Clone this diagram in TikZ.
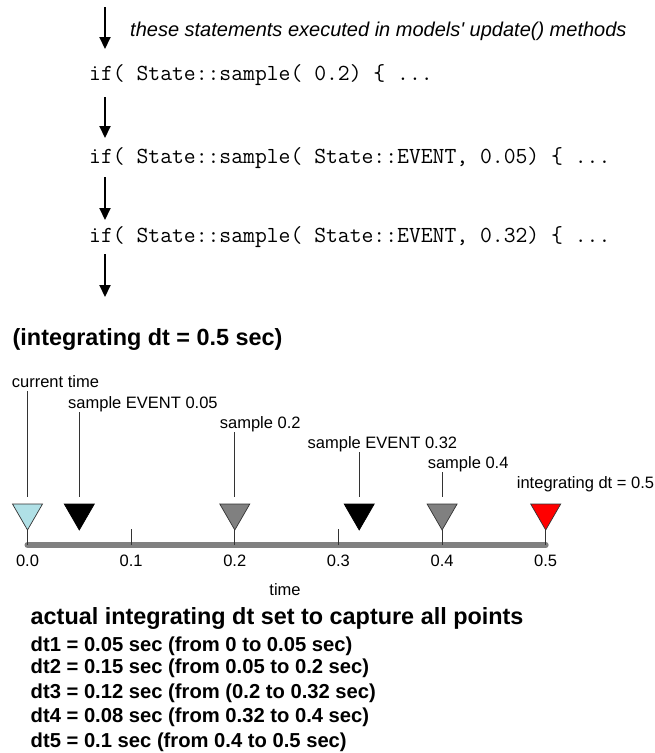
\documentclass[tikz,border=0pt]{standalone}
\usepackage{fontspec}
\setmainfont{Liberation Sans}
\usetikzlibrary{arrows.meta,shapes.geometric}

\definecolor{markcyan}{RGB}{176,224,230}
\definecolor{markgray}{RGB}{128,128,128}
\definecolor{markred}{RGB}{255,0,0}

\tikzset{
  flow/.style={line width=2pt,-{Triangle[width=11pt,length=12pt]}},
  code/.style={anchor=west,inner sep=0pt,font=\fontsize{23}{23}\ttfamily},
  lbl/.style={anchor=base west,inner sep=1.5pt,text height=0.72em,text depth=0.25em,font=\fontsize{16.5}{16.5}\selectfont},
  marker/.style={regular polygon,regular polygon sides=3,shape border rotate=180,minimum size=34.6pt,inner sep=0pt,outer sep=0pt,draw=black!80,line width=0.7pt},
  leader/.style={draw=black!80,line width=0.8pt},
  heading/.style={anchor=west,inner sep=0pt,font=\fontsize{23.4}{23.4}\bfseries},
  steps/.style={anchor=west,inner sep=0pt,font=\fontsize{20.2}{20.2}\bfseries},
}

\begin{document}
\begin{tikzpicture}[x=1pt,y=-1pt]
    \useasboundingbox (0,0) rectangle (655,753);
    % statements run in update()
    \foreach \ya/\yb [count=\i] in {7/49,97/138,177/220,254/297} {
        \coordinate (top\i) at (105,\ya);
        \coordinate (tip\i) at (105,\yb);
        \draw[flow] (top\i) -- (tip\i);
    }
    \node[anchor=west,inner sep=0pt,font=\fontsize{20}{20}\itshape] (note) at (130,31)
        {these statements executed in models\textquotesingle{} update() methods};
    \node[code] (s1) at (89,75) {if( State::sample( 0.2) \{ ...};
    \node[code] (s2) at (89,158) {if( State::sample( State::EVENT, 0.05) \{ ...};
    \node[code] (s3) at (89,237) {if( State::sample( State::EVENT, 0.32) \{ ...};

    \node[heading] (head) at (12.5,339) {(integrating dt = 0.5 sec)};

    % time axis
    \coordinate (ax0) at (27.5,545);
    \coordinate (ax5) at (545.7,545);
    \draw[markgray,line width=6pt,line cap=round] (ax0) -- (ax5);
    \foreach \v/\n in {0.0/0,0.1/1,0.2/2,0.3/3,0.4/4,0.5/5} {
        \coordinate (t\n) at ({27.5+1036.4*\v},545);
        \node[lbl,anchor=base] (tl\n) at ({27.5+1036.4*\v},566) {\v};
    }
    \draw[leader] (t1) -- ++(0,-16);
    \draw[leader] (t3) -- ++(0,-16);
    \node[lbl,anchor=base] (axislbl) at (285,595) {time};

    % sample points
    \node[marker,fill=markcyan] (m0) at (27.5,512.7) {};
    \node[marker,fill=black,draw=black] (m1) at (79.3,512.7) {};
    \node[marker,fill=markgray] (m2) at (234.8,512.7) {};
    \node[marker,fill=black,draw=black] (m3) at (359.2,512.7) {};
    \node[marker,fill=markgray] (m4) at (442.1,512.7) {};
    \node[marker,fill=markred] (m5) at (545.7,512.7) {};
    \foreach \n in {0,2,4,5}
        \draw[leader] (m\n.corner 1) -- (m\n.corner 1 |- ax0);

    \node[lbl] (l0) at (10.2,387) {current time};
    \node[lbl] (l1) at (66.5,408) {sample EVENT 0.05};
    \node[lbl] (l2) at (218.2,428) {sample 0.2};
    \node[lbl] (l3) at (306,448) {sample EVENT 0.32};
    \node[lbl] (l4) at (426.1,468) {sample 0.4};
    \node[lbl] (l5) at (515.2,488) {integrating dt = 0.5};
    \foreach \n in {0,1,2,3,4}
        \draw[leader,shorten >=7pt] (l\n.south -| m\n.north) -- (m\n.north);

    % resulting steps
    \node[heading] (summary) at (30.5,618) {actual integrating dt set to capture all points};
    \foreach \y/\txt [count=\i] in {646/{dt1 = 0.05 sec (from 0 to 0.05 sec)},
                                    668/{dt2 = 0.15 sec (from 0.05 to 0.2 sec)},
                                    693/{dt3 = 0.12 sec (from (0.2 to 0.32 sec)},
                                    717/{dt4 = 0.08 sec (from 0.32 to 0.4 sec)},
                                    742/{dt5 = 0.1 sec (from 0.4 to 0.5 sec)}}
        \node[steps] (dt\i) at (30.5,\y) {\txt};
\end{tikzpicture}
\end{document}
